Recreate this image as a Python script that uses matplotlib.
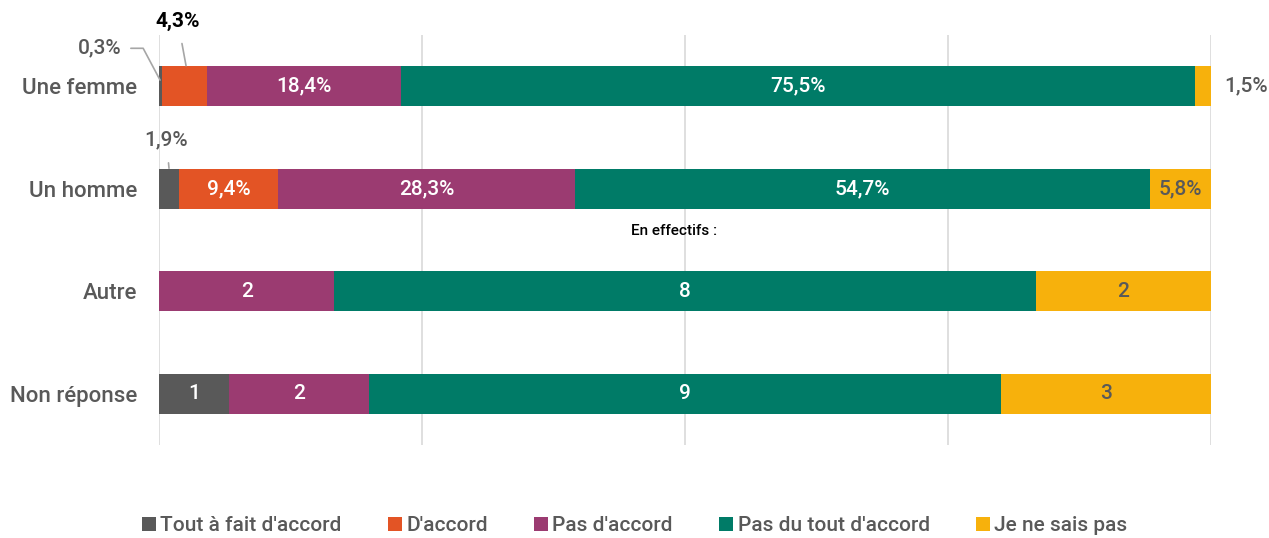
import numpy as np
import matplotlib
matplotlib.use("Agg")
import matplotlib.pyplot as plt

plt.rcParams["font.family"] = ["Roboto", "DejaVu Sans"]

categories = ["Une femme", "Un homme", "Autre", "Non réponse"]
series = ["Tout à fait d'accord", "D'accord", "Pas d'accord",
          "Pas du tout d'accord", "Je ne sais pas"]
colors = ["#595959", "#E35425", "#9B3B71", "#007B67", "#F7B10C"]

# percentages for the first two rows, counts for the last two
femme = [0.3, 4.3, 18.4, 75.5, 1.5]
homme = [1.9, 9.4, 28.3, 54.7, 5.8]
autre = [0, 0, 2, 8, 2]
non_reponse = [1, 0, 2, 9, 3]

rows = [femme, homme, autre, non_reponse]
is_pct = [True, True, False, False]

fig = plt.figure(figsize=(12.69, 5.38), dpi=100)
ax = fig.add_axes([0.1253, 0.1729, 0.8290, 0.7621])

TXT = "#595959"
W = "medium"
for i, (vals, pct) in enumerate(zip(rows, is_pct)):
    vals = np.array(vals, dtype=float)
    widths = vals / vals.sum() * 100
    left = 0.0
    for j, w in enumerate(widths):
        if w > 0:
            ax.barh(i, w, left=left, height=0.39, color=colors[j],
                    label=series[j] if i == 0 else None, zorder=3)
            inside = (pct and w > 5) or (not pct and vals[j] > 0)
            if inside:
                txt = (f"{vals[j]:.1f}%".replace(".", ",") if pct
                       else f"{int(vals[j])}")
                c = TXT if j == 4 else "white"
                ax.text(left + w / 2, i, txt, ha="center", va="center",
                        color=c, fontsize=15, fontweight=W, zorder=4)
        left += w

# small-value labels with leader lines
lc = "#A6A6A6"
ax.annotate("0,3%", xy=(0.1, -0.06), xytext=(-3.6, -0.37), ha="right", va="center",
            color=TXT, fontsize=15, fontweight=W, annotation_clip=False,
            arrowprops=dict(arrowstyle="-", color=lc, lw=1.2,
                            connectionstyle="angle,angleA=0,angleB=118,rad=0",
                            shrinkA=5, shrinkB=0))
ax.annotate("4,3%", xy=(2.57, -0.2), xytext=(1.8, -0.63), ha="center", va="center",
            color="black", fontsize=15, fontweight="bold", annotation_clip=False,
            arrowprops=dict(arrowstyle="-", color=lc, lw=1.2, shrinkA=7, shrinkB=0))
ax.annotate("1,9%", xy=(0.95, 0.8), xytext=(0.7, 0.52), ha="center", va="center",
            color=TXT, fontsize=15, fontweight=W, annotation_clip=False,
            arrowprops=dict(arrowstyle="-", color=lc, lw=1.2, shrinkA=8, shrinkB=0))
ax.text(103.3, 0, "1,5%", ha="center", va="center", color=TXT,
        fontsize=15, fontweight=W, clip_on=False)

ax.text(49.0, 1.41, "En effectifs :", ha="center", va="center",
        color="black", fontsize=11, fontweight=W)

ax.set_xlim(0, 100)
ax.set_ylim(3.5, -0.5)
ax.set_xticks([0, 25, 50, 75, 100])
ax.set_xticklabels([])
ax.tick_params(axis="x", length=0)
ax.xaxis.grid(True, color="#D9D9D9", lw=1.2, zorder=0)
ax.set_yticks(range(len(categories)))
ax.set_yticklabels(categories, fontsize=16, fontweight=W, color=TXT)
ax.tick_params(axis="y", length=0, pad=16)
for s in ax.spines.values():
    s.set_visible(False)

fig.legend(loc="lower center", bbox_to_anchor=(0.5, -0.03), ncol=5,
           frameon=False, handlelength=0.7, handleheight=0.7,
           handletextpad=0.2, columnspacing=2.2,
           prop={"size": 15, "weight": W}, labelcolor=TXT)

fig.savefig("out.png", dpi=100)
